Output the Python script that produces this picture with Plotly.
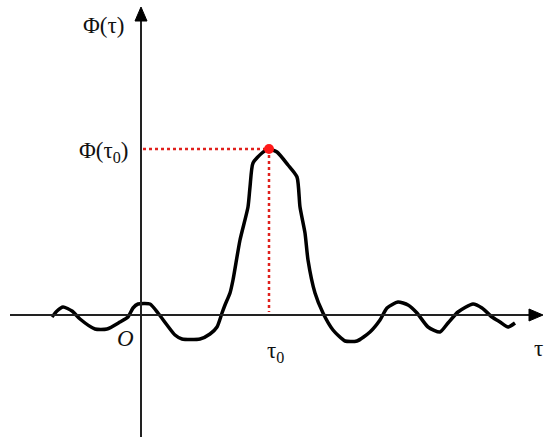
import plotly.graph_objects as go

# curve (tau along the axis, phi above the axis)
tau = [52, 57, 63, 72, 80, 95, 107, 120, 128, 133, 138, 150, 158, 167, 175, 182, 200, 210,
       217, 222, 225, 230, 233, 240, 248, 250, 253, 262, 269, 277, 288, 297, 300, 305,
       308, 315, 323, 333, 345, 357, 370, 380, 387, 398, 408, 417, 428, 440, 448, 458,
       473, 482, 492, 500, 508, 515]
phi = [-2, 4, 8, 4, -4, -14, -14, -7, -2, 7, 11, 11, 2, -10, -20, -24, -24, -19,
       -12, 2, 10, 22, 35, 75, 108, 128, 152, 162, 166, 163, 150, 138, 108, 82,
       55, 22, 2, -15, -26, -26, -17, -5, 7, 13, 10, 2, -12, -17, -8, 3,
       11, 7, -2, -7, -12, -8]

axis_labels = {"y": "Φ(τ)", "peak": "Φ(τ<sub>0</sub>)", "origin": "<i>O</i>", "tau0": "τ<sub>0</sub>", "x": "τ"}

peak_i = max(range(len(phi)), key=lambda i: phi[i])
tau0, phi0 = tau[peak_i], phi[peak_i]

x0_axis = 141
fig = go.Figure()

fig.add_trace(go.Scatter(x=tau, y=phi, mode="lines", line=dict(color="black", width=3.5, shape="spline", smoothing=0.6),
                         hoverinfo="skip"))
fig.add_trace(go.Scatter(x=[x0_axis + 2, tau0], y=[phi0, phi0], mode="lines",
                         line=dict(color="#e0201c", width=2.5, dash="dot"), hoverinfo="skip"))
fig.add_trace(go.Scatter(x=[tau0, tau0], y=[phi0, 3], mode="lines",
                         line=dict(color="#e0201c", width=2.5, dash="dot"), hoverinfo="skip"))
fig.add_trace(go.Scatter(x=[tau0], y=[phi0], mode="markers", marker=dict(color="#ff1a1a", size=10),
                         hoverinfo="skip"))

# axes with arrow heads
fig.add_shape(type="line", x0=10, x1=532, y0=0, y1=0, line=dict(color="#222", width=2))
fig.add_shape(type="line", x0=x0_axis, x1=x0_axis, y0=-122, y1=295, line=dict(color="#222", width=2))
fig.add_shape(type="path", path="M 529 -6 L 543 0 L 529 6 Z", fillcolor="black", line=dict(color="black", width=1))
fig.add_shape(type="path", path=f"M {x0_axis-6} 294 L {x0_axis} 308 L {x0_axis+6} 294 Z",
              fillcolor="black", line=dict(color="black", width=1))

font = dict(family="Liberation Serif, Times New Roman, serif", size=23, color="#111")
fig.add_annotation(x=103, y=290, text=axis_labels["y"], showarrow=False, font=font)
fig.add_annotation(x=103, y=163, text=axis_labels["peak"], showarrow=False, font=font)
fig.add_annotation(x=125, y=-23, text=axis_labels["origin"], showarrow=False, font=font)
fig.add_annotation(x=tau0 + 6, y=-37, text=axis_labels["tau0"], showarrow=False, font=font)
fig.add_annotation(x=538, y=-33, text=axis_labels["x"], showarrow=False, font=font)

fig.update_layout(
    width=550, height=448,
    margin=dict(l=0, r=0, t=0, b=0),
    plot_bgcolor="white", paper_bgcolor="white",
    showlegend=False,
    xaxis=dict(range=[0, 550], visible=False, fixedrange=True),
    yaxis=dict(range=[-133, 315], visible=False, fixedrange=True),
)

fig.write_html("out.html", config={"displayModeBar": False},
               post_script="document.body.style.margin='0';")
